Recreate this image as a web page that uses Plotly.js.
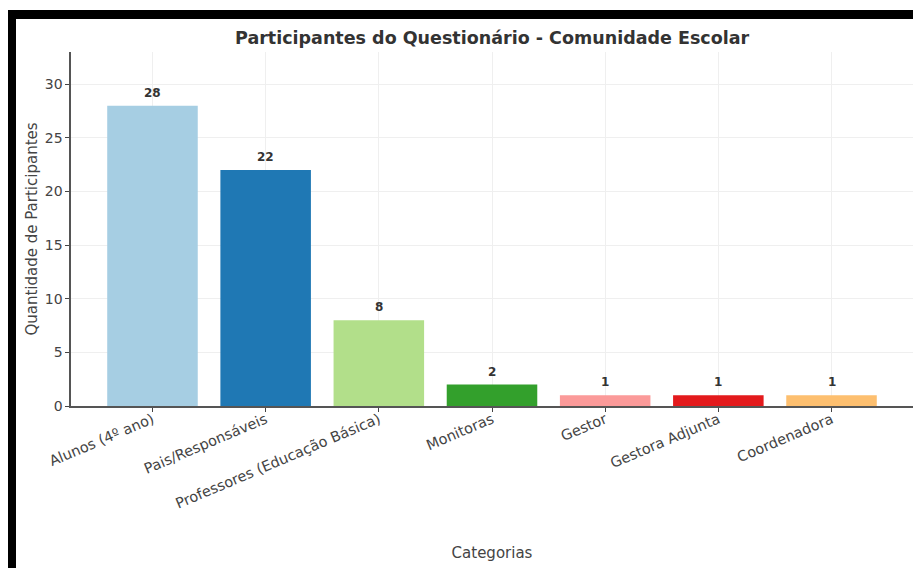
<!DOCTYPE html>
<html>
<head>
<meta charset="utf-8">
<script src="https://cdn.plot.ly/plotly-3.0.1.min.js"></script>
<style>
  html, body { margin: 0; padding: 0; background: #fff; }
  #chart { position: absolute; left: 0; top: 0; width: 913px; height: 568px; }
  .band { position: absolute; background: #000; }
</style>
</head>
<body>
<div id="chart"></div>
<div class="band" style="left:8px; top:10px; width:905px; height:9px;"></div>
<div class="band" style="left:8px; top:10px; width:8px; height:558px;"></div>
<script>
const categories = ["Alunos (4º ano)", "Pais/Responsáveis", "Professores (Educação Básica)", "Monitoras", "Gestor", "Gestora Adjunta", "Coordenadora"];
const values = [28, 22, 8, 2, 1, 1, 1];
const barColors = ["#a6cee3", "#1f78b4", "#b2df8a", "#33a02c", "#fb9a99", "#e31a1c", "#fdbf6f"];
const yTicks = [0, 5, 10, 15, 20, 25, 30];

const xIdx = categories.map((c, i) => i);

const trace = {
  type: "bar",
  x: xIdx,
  y: values,
  width: 0.8,
  marker: { color: barColors, line: { width: 0 } },
  hoverinfo: "skip"
};

const labelAnnotations = values.map((v, i) => ({
  x: xIdx[i], y: v, xref: "x", yref: "y",
  text: "<b>" + v + "</b>",
  showarrow: false, yanchor: "bottom", yshift: 4,
  font: { family: "DejaVu Sans", size: 12, color: "#333" }
}));

const layout = {
  width: 913, height: 568,
  margin: { l: 71, r: 0, t: 52, b: 162 },
  paper_bgcolor: "#fff", plot_bgcolor: "#fff",
  font: { family: "DejaVu Sans", color: "#444" },
  showlegend: false,
  title: {
    text: "<b>Participantes do Questionário - Comunidade Escolar</b>",
    font: { family: "DejaVu Sans", size: 17.5, color: "#333" },
    x: 0.539, xanchor: "center", y: 0.933, yanchor: "middle"
  },
  annotations: labelAnnotations,
  xaxis: {
    range: [-0.72, 6.72],
    tickmode: "array",
    tickvals: xIdx,
    ticktext: categories,
    tickangle: -23,
    ticklabelstandoff: -6,
    tickfont: { family: "DejaVu Sans", size: 14.5, color: "#444" },
    ticks: "outside", ticklen: 4, tickcolor: "#444", tickwidth: 1,
    showgrid: true, gridcolor: "#efefef", gridwidth: 1,
    showline: true, linecolor: "#555", linewidth: 1.6,
    zeroline: false,
    title: { text: "Categorias", font: { family: "DejaVu Sans", size: 15, color: "#444" }, standoff: 37 },
    automargin: false
  },
  yaxis: {
    range: [0, 33],
    tickmode: "array",
    tickvals: yTicks,
    tickfont: { family: "DejaVu Sans", size: 14, color: "#444" },
    ticks: "outside", ticklen: 4, tickcolor: "#444", tickwidth: 1,
    showgrid: true, gridcolor: "#efefef", gridwidth: 1,
    showline: true, linecolor: "#555", linewidth: 1.6,
    zeroline: false,
    title: { text: "Quantidade de Participantes", font: { family: "DejaVu Sans", size: 15, color: "#444" }, standoff: 3 },
    automargin: false
  },
  bargap: 0.2
};

Plotly.newPlot("chart", [trace], layout, { displayModeBar: false, staticPlot: true });
</script>
</body>
</html>
